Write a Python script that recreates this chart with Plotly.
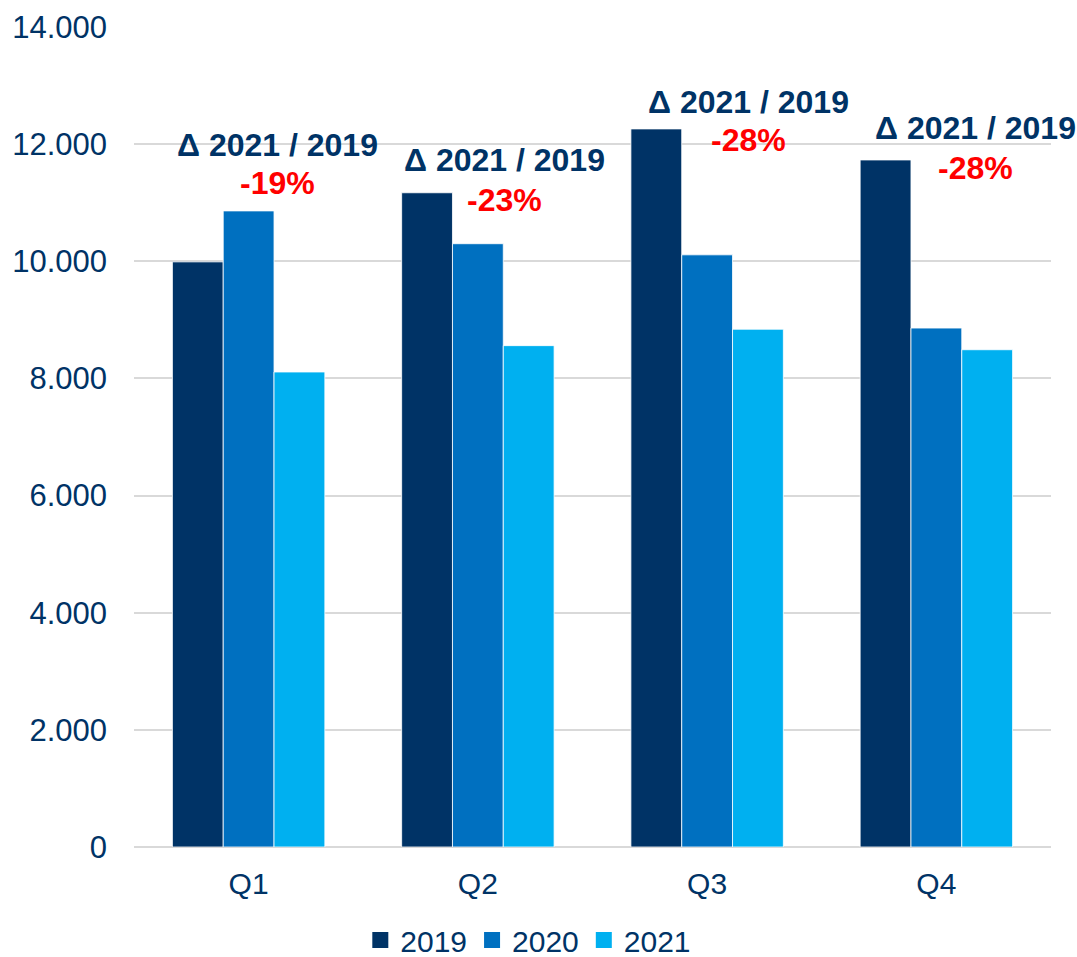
import plotly.graph_objects as go

quarters = ["Q1", "Q2", "Q3", "Q4"]
v2019 = [9990, 11170, 12260, 11730]
v2020 = [10860, 10300, 10110, 8860]
v2021 = [8110, 8560, 8840, 8490]
series_names = ["2019", "2020", "2021"]
colors = ["#003366", "#0070C0", "#00B0F0"]
tick_vals = [0, 2000, 4000, 6000, 8000, 10000, 12000, 14000]
tick_text = ["0", "2.000", "4.000", "6.000", "8.000", "10.000", "12.000", "14.000"]

# annotation placement (label y, pct y, xshift) per quarter
label_y = [11990, 11730, 12720, 12280]
pct_y = [11340, 11050, 12070, 11590]
label_shift = [29, 27, 41, 39]

FONT = "Arial, Liberation Sans, sans-serif"
TXT = "#003366"

fig = go.Figure()
for name, vals, c in zip(series_names, [v2019, v2020, v2021], colors):
    fig.add_trace(go.Bar(x=quarters, y=vals, name=name, marker_color=c,
                         marker_line_color="white", marker_line_width=0.8,
                         showlegend=False, legendgroup=name))
# legend entries with larger square symbols
for name, c in zip(series_names, colors):
    fig.add_trace(go.Scatter(x=[None], y=[None], mode="markers", name=name,
                             legendgroup=name,
                             marker=dict(symbol="square", size=17, color=c)))

for i, q in enumerate(quarters):
    pct = round((v2021[i] / v2019[i] - 1) * 100)
    fig.add_annotation(x=q, y=label_y[i], xref="x", yref="y", xshift=label_shift[i],
                       text="<b>Δ 2021 / 2019</b>", showarrow=False,
                       font=dict(family=FONT, size=32, color=TXT))
    fig.add_annotation(x=q, y=pct_y[i], xref="x", yref="y", xshift=label_shift[i],
                       text=f"<b>{pct}%</b>", showarrow=False,
                       font=dict(family=FONT, size=32, color="#FF0000"))

fig.update_layout(
    width=1077, height=957,
    margin=dict(l=134, r=26, t=27, b=110, autoexpand=False),
    paper_bgcolor="white", plot_bgcolor="white",
    barmode="group", bargap=0.335, bargroupgap=0,
    font=dict(family=FONT, size=30, color=TXT),
    legend=dict(orientation="h", x=0.43, xanchor="center", y=-0.1135, yanchor="middle",
                font=dict(size=30, color=TXT), itemwidth=30, traceorder="normal",
                itemsizing="trace", bgcolor="rgba(0,0,0,0)"),
    showlegend=True,
)
fig.update_yaxes(range=[0, 14000], tickvals=tick_vals, ticktext=tick_text,
                 showgrid=True, gridcolor="#D9D9D9", gridwidth=1.5,
                 zeroline=True, zerolinecolor="#D9D9D9", zerolinewidth=2,
                 ticks="", ticklabelstandoff=26, tickfont=dict(size=31, color=TXT), automargin=False)
fig.update_xaxes(range=[-0.5, 3.5], showline=False, ticks="", ticklabelstandoff=16,
                 tickfont=dict(size=30, color=TXT), automargin=False)

fig.write_html("out.html", config={"displayModeBar": False},
               post_script="document.body.style.margin='0';document.body.style.overflow='hidden';")
